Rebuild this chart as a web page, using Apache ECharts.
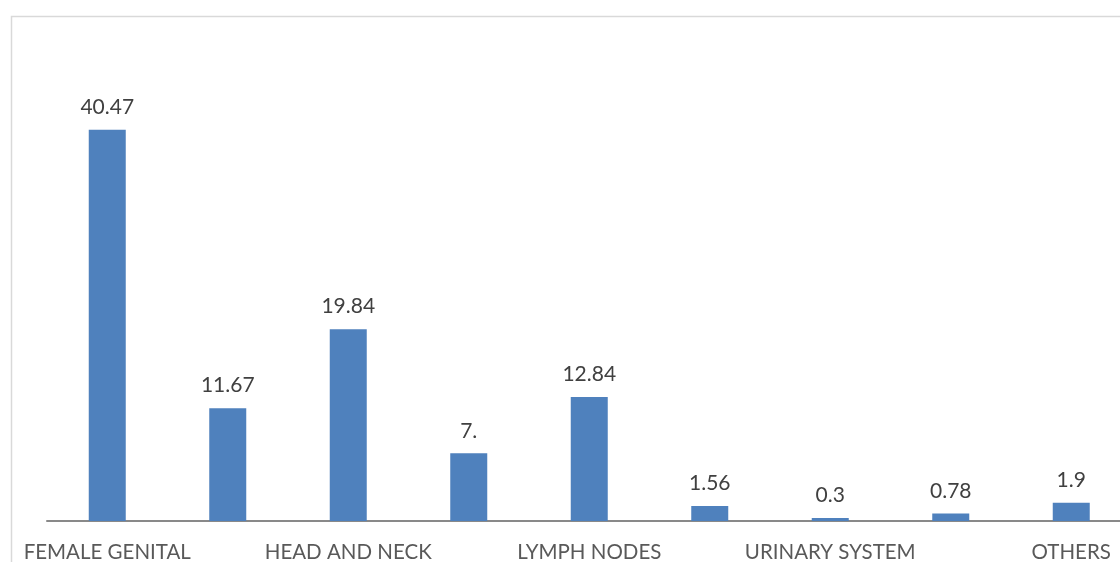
<!DOCTYPE html>
<html>
<head>
<meta charset="utf-8">
<script src="https://cdn.jsdelivr.net/npm/echarts@6/dist/echarts.min.js"></script>
<style>
  html, body { margin: 0; padding: 0; background: #ffffff; }
  #chart { width: 1120px; height: 562px; }
</style>
</head>
<body>
<div id="chart"></div>
<script>
// Site groups; only every other name is printed under the axis
const categories = ['FEMALE GENITAL', '', 'HEAD AND NECK', '', 'LYMPH NODES', '', 'URINARY SYSTEM', '', 'OTHERS'];
// Share of cases per site (%)
const values = [40.47, 11.67, 19.84, 7, 12.84, 1.56, 0.3, 0.78, 1.9];

const chart = echarts.init(document.getElementById('chart'));

const font = 'Lato, "Open Sans", "Liberation Sans", sans-serif';

chart.setOption({
  animation: false,
  backgroundColor: '#ffffff',
  graphic: [{
    type: 'rect',
    left: 9,
    top: 14,
    shape: { width: 1200, height: 700 },
    style: { fill: 'none', stroke: '#d9d9d9', lineWidth: 1.5 },
    silent: true,
    z: -1
  }],
  grid: {
    left: 47,
    top: 86,
    width: 1084.5,
    height: 435,
    containLabel: false,
    outerBoundsMode: 'none'
  },
  xAxis: {
    type: 'category',
    data: categories,
    axisLine: { lineStyle: { color: '#898989', width: 2 } },
    axisTick: { show: false },
    axisLabel: {
      interval: 0,
      color: '#595959',
      fontFamily: font,
      fontSize: 20.5,
      margin: 21
    }
  },
  yAxis: {
    type: 'value',
    min: 0,
    max: 45,
    show: false,
    splitLine: { show: false }
  },
  series: [{
    type: 'bar',
    data: values,
    barWidth: 37,
    itemStyle: { color: '#4f81bd' },
    label: {
      show: true,
      position: 'top',
      distance: 12,
      color: '#404040',
      fontFamily: font,
      fontSize: 21,
      formatter: p => Number.isInteger(p.value) ? p.value + '.' : String(p.value)
    }
  }]
});
</script>
</body>
</html>
